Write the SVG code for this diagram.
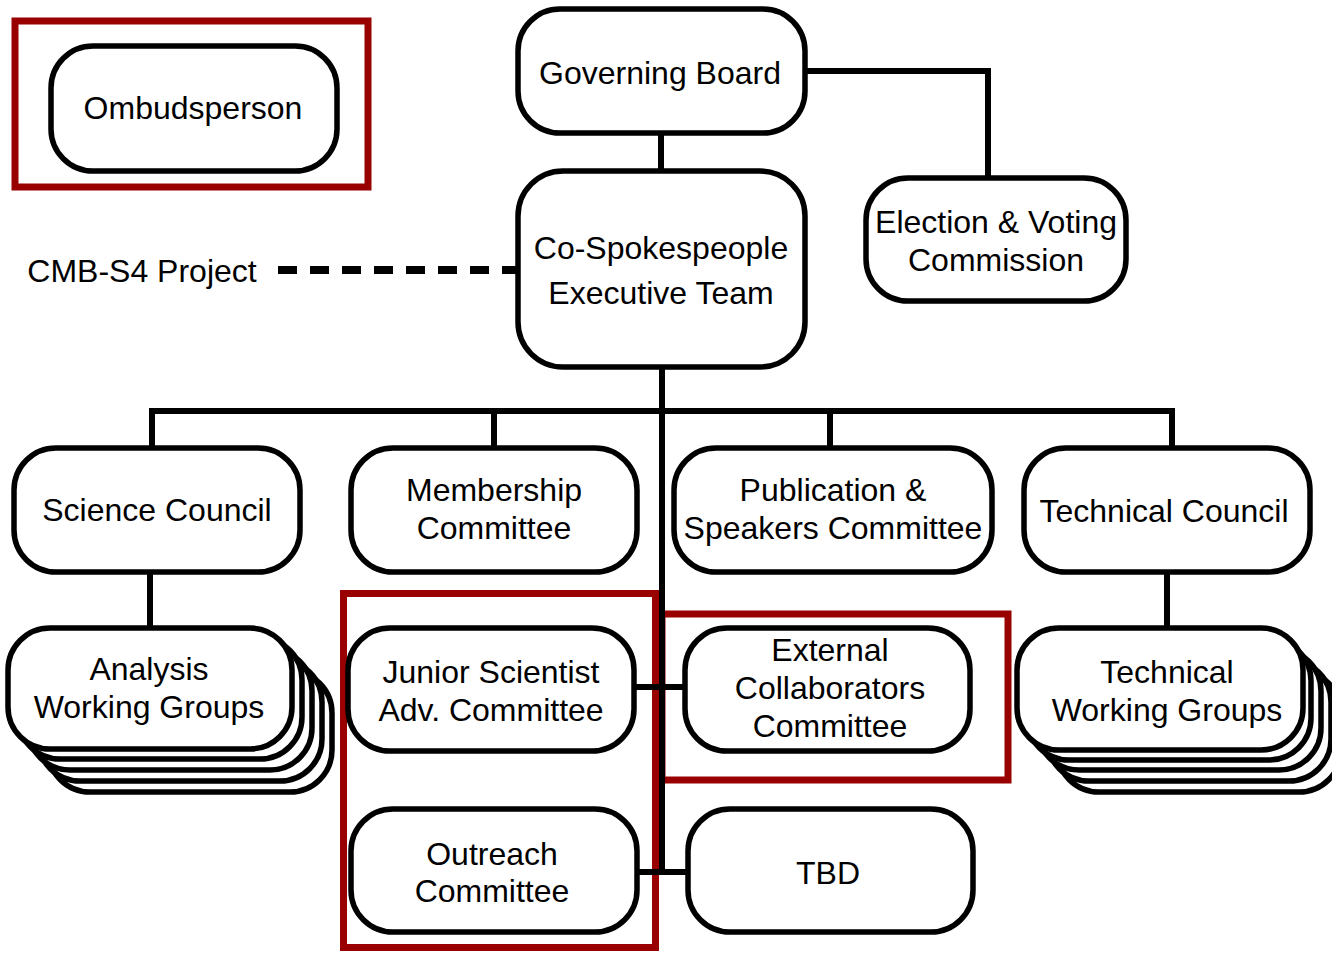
<svg xmlns="http://www.w3.org/2000/svg" width="1332" height="953" viewBox="0 0 1332 953">
<style>
.n{fill:#fff;stroke:#000;stroke-width:5.5}
.t{font-family:"Liberation Sans",Arial,sans-serif;font-size:32px;fill:#000;text-anchor:middle}
.c{fill:none;stroke:#000;stroke-width:6}
.r{fill:none;stroke:#990000;stroke-width:7}
</style>
<rect width="1332" height="953" fill="#fff"/>
<g id="highlights">
<rect class="r" x="15" y="21" width="353" height="166"/>
<rect class="r" x="343.5" y="593.5" width="312" height="354"/>
<rect class="r" x="662" y="614" width="346" height="166"/>
</g>
<g id="connectors">
<path class="c" d="M806 71H988V177"/>
<path class="c" d="M661 133V170"/>
<path class="c" d="M662 367V872"/>
<path class="c" d="M152 447V411H1172V447M494 411V447M830 411V447"/>
<path class="c" d="M150 572V628"/>
<path class="c" d="M1167 572V628"/>
<path class="c" d="M634 687H685"/>
<path class="c" d="M637 872H688"/>
<path d="M278 270H518" fill="none" stroke="#000" stroke-width="8" stroke-dasharray="19 13"/>
</g>
<g id="governing-board">
<rect class="n" x="518" y="9" width="287" height="124" rx="42"/>
<text class="t" x="660" y="84">Governing Board</text>
</g>
<g id="ombudsperson">
<rect class="n" x="51" y="46" width="286" height="125" rx="42"/>
<text class="t" x="193" y="119">Ombudsperson</text>
</g>
<g id="cmb-s4-project">
<text class="t" x="142" y="282">CMB-S4 Project</text>
</g>
<g id="co-spokespeople">
<rect class="n" x="518" y="171" width="287" height="196" rx="45"/>
<text class="t" x="661" y="259">Co-Spokespeople</text>
<text class="t" x="661" y="304">Executive Team</text>
</g>
<g id="election-voting">
<rect class="n" x="866" y="178" width="260" height="123" rx="42"/>
<text class="t" x="996" y="233">Election &amp; Voting</text>
<text class="t" x="996" y="271">Commission</text>
</g>
<g id="science-council">
<rect class="n" x="14" y="448" width="286" height="124" rx="42"/>
<text class="t" x="157" y="521">Science Council</text>
</g>
<g id="membership-committee">
<rect class="n" x="351" y="448" width="286" height="124" rx="42"/>
<text class="t" x="494" y="501">Membership</text>
<text class="t" x="494" y="539">Committee</text>
</g>
<g id="publication-speakers">
<rect class="n" x="674" y="448" width="318" height="124" rx="42"/>
<text class="t" x="833" y="501">Publication &amp;</text>
<text class="t" x="833" y="539">Speakers Committee</text>
</g>
<g id="technical-council">
<rect class="n" x="1024" y="448" width="286" height="124" rx="42"/>
<text class="t" x="1164" y="522">Technical Council</text>
</g>
<g id="analysis-working-groups">
<rect class="n" x="48" y="671" width="284" height="121" rx="42"/>
<rect class="n" x="38" y="660" width="284" height="121" rx="42"/>
<rect class="n" x="28" y="649" width="284" height="121" rx="42"/>
<rect class="n" x="18" y="638" width="284" height="121" rx="42"/>
<rect class="n" x="8" y="628" width="284" height="121" rx="42"/>
<text class="t" x="149" y="680">Analysis</text>
<text class="t" x="149" y="718">Working Groups</text>
</g>
<g id="technical-working-groups">
<rect class="n" x="1057" y="671" width="284" height="121" rx="42"/>
<rect class="n" x="1047" y="660" width="284" height="121" rx="42"/>
<rect class="n" x="1037" y="649" width="284" height="121" rx="42"/>
<rect class="n" x="1027" y="639" width="284" height="121" rx="42"/>
<rect class="n" x="1017" y="628" width="286" height="122" rx="42"/>
<text class="t" x="1167" y="683">Technical</text>
<text class="t" x="1167" y="721">Working Groups</text>
</g>
<g id="junior-scientist">
<rect class="n" x="348" y="628" width="286" height="123" rx="42"/>
<text class="t" x="491" y="683">Junior Scientist</text>
<text class="t" x="491" y="721">Adv. Committee</text>
</g>
<g id="external-collaborators">
<rect class="n" x="685" y="628" width="285" height="123" rx="42"/>
<text class="t" x="830" y="661">External</text>
<text class="t" x="830" y="699">Collaborators</text>
<text class="t" x="830" y="737">Committee</text>
</g>
<g id="outreach-committee">
<rect class="n" x="351" y="809" width="286" height="123" rx="42"/>
<text class="t" x="492" y="865">Outreach</text>
<text class="t" x="492" y="902">Committee</text>
</g>
<g id="tbd">
<rect class="n" x="688" y="809" width="285" height="123" rx="42"/>
<text class="t" x="828" y="884">TBD</text>
</g>
</svg>
